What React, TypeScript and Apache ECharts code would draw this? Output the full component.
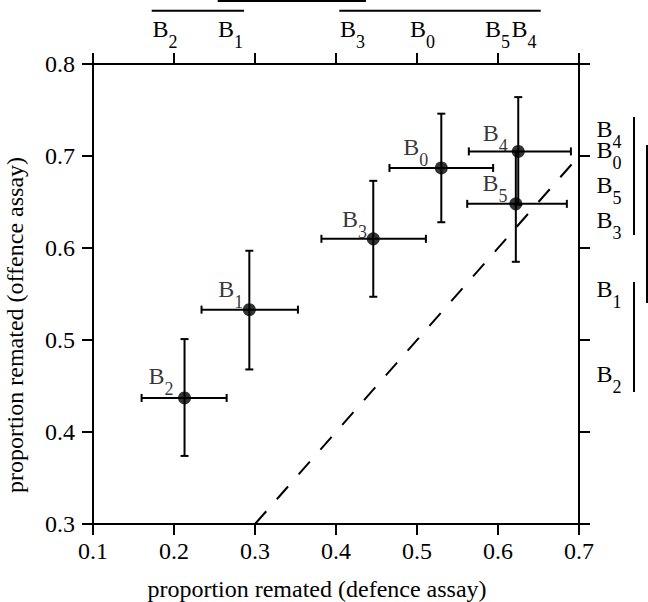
import React, { useEffect, useRef } from "react";
import * as echarts from "echarts";

// ---- data ----
const groups = ["0", "1", "2", "3", "4", "5"]; // B subscripts
const defenceMean = [0.530, 0.293, 0.213, 0.446, 0.625, 0.622];
const offenceMean = [0.687, 0.533, 0.437, 0.610, 0.705, 0.648];
const defenceLow = [0.466, 0.234, 0.160, 0.382, 0.564, 0.562];
const defenceHigh = [0.594, 0.353, 0.265, 0.511, 0.690, 0.685];
const offenceLow = [0.628, 0.468, 0.374, 0.547, 0.647, 0.585];
const offenceHigh = [0.746, 0.597, 0.501, 0.673, 0.764, 0.705];
const xTicks = [0.1, 0.2, 0.3, 0.4, 0.5, 0.6, 0.7];
const yTicks = [0.3, 0.4, 0.5, 0.6, 0.7, 0.8];
const diagonal = [0.3, 0.7];

// ordering of the labels drawn above (defence) and to the right (offence)
const topOrder = ["2", "1", "3", "0", "5", "4"];
const rightOrder = ["4", "0", "5", "3", "1", "2"];

// ---- layout (pixels) ----
const topLabelX = [152.5, 218, 340, 410, 485, 511.5];
const topLabelY = 17;
const rightLabelX = 596.5;
const rightLabelY = [116.6, 138.2, 173.2, 208.2, 276.6, 361.6];
const topBars = [
  [151.7, 244, 10.7],
  [217.7, 366, 1],
  [339.3, 540.7, 10.7],
];
const rightBars = [
  [634, 117, 235],
  [647, 145, 303],
  [634, 282, 392],
];
const pointLabelOffset = [
  [-1.5, -21.3],
  [5.5, -21.1],
  [0.5, -22.1],
  [5.2, -20.1],
  [1.1, -18.5],
  [3.1, -20.4],
];

const FONT = "Liberation Serif";
const rich = {
  b: { fontSize: 24, fontFamily: FONT, color: "#000", lineHeight: 24 },
  s: { fontSize: 18, fontFamily: FONT, color: "#000", lineHeight: 18, padding: [26, 0, 0, 0] },
};
const bLabel = (k: string) => `{b|B}{s|${k}}`;

export default function App() {
  const ref = useRef<HTMLDivElement>(null);
  useEffect(() => {
    document.body.style.margin = "0";
    const chart = echarts.init(ref.current!, null, { renderer: "svg" });

    const errData = groups.map((_, i) => [
      defenceMean[i],
      offenceMean[i],
      defenceLow[i],
      defenceHigh[i],
      offenceLow[i],
      offenceHigh[i],
    ]);

    const pointData = groups.map((g, i) => ({
      value: [defenceMean[i], offenceMean[i]],
      label: {
        show: true,
        position: "left",
        offset: pointLabelOffset[i],
        formatter: bLabel(g),
        fontFamily: FONT,
        color: "#000",
        textBorderWidth: 0,
        rich,
      },
    }));

    const axisLine = { show: true, lineStyle: { color: "#000", width: 2 } };
    const axisTick = { show: true, inside: false, length: 11, lineStyle: { color: "#000", width: 2 } };
    const labelStyle = { color: "#000", fontSize: 24, fontFamily: FONT };

    const graphic: any[] = [];
    topOrder.forEach((g, i) => {
      graphic.push({
        type: "text",
        x: topLabelX[i],
        y: topLabelY,
        style: { text: bLabel(g), rich, fontFamily: FONT, fill: "#000", align: "left", verticalAlign: "top" },
      });
    });
    rightOrder.forEach((g, i) => {
      graphic.push({
        type: "text",
        x: rightLabelX,
        y: rightLabelY[i],
        style: { text: bLabel(g), rich, fontFamily: FONT, fill: "#000", align: "left", verticalAlign: "top" },
      });
    });
    topBars.forEach((b) => {
      graphic.push({
        type: "line",
        shape: { x1: b[0], y1: b[2], x2: b[1], y2: b[2] },
        style: { stroke: "#000", lineWidth: 2 },
      });
    });
    rightBars.forEach((b) => {
      graphic.push({
        type: "line",
        shape: { x1: b[0], y1: b[1], x2: b[0], y2: b[2] },
        style: { stroke: "#000", lineWidth: 2 },
      });
    });
    graphic.push({
      type: "text",
      x: 317,
      y: 589,
      style: {
        text: "proportion remated (defence assay)",
        fontSize: 24,
        fontFamily: FONT,
        fill: "#000",
        align: "center",
        verticalAlign: "middle",
      },
    });
    graphic.push({
      type: "text",
      x: 15,
      y: 325,
      rotation: Math.PI / 2,
      style: {
        text: "proportion remated (offence assay)",
        fontSize: 24,
        fontFamily: FONT,
        fill: "#000",
        align: "center",
        verticalAlign: "middle",
      },
    });

    chart.setOption({
      animation: false,
      backgroundColor: "#fff",
      grid: { left: 93, right: 69, top: 64, bottom: 78, containLabel: false },
      xAxis: [
        {
          type: "value",
          position: "bottom",
          min: xTicks[0],
          max: xTicks[xTicks.length - 1],
          interval: 0.1,
          axisLine,
          axisTick,
          splitLine: { show: false },
          axisLabel: { ...labelStyle, margin: 15, formatter: (v: number) => v.toFixed(1) },
        },
        {
          type: "value",
          position: "top",
          min: xTicks[0],
          max: xTicks[xTicks.length - 1],
          interval: 0.1,
          axisLine,
          axisTick,
          splitLine: { show: false },
          axisLabel: { show: false },
        },
      ],
      yAxis: [
        {
          type: "value",
          position: "left",
          min: yTicks[0],
          max: yTicks[yTicks.length - 1],
          interval: 0.1,
          axisLine,
          axisTick,
          splitLine: { show: false },
          axisLabel: { ...labelStyle, margin: 18, formatter: (v: number) => v.toFixed(1) },
        },
        {
          type: "value",
          position: "right",
          min: yTicks[0],
          max: yTicks[yTicks.length - 1],
          interval: 0.1,
          axisLine,
          axisTick,
          splitLine: { show: false },
          axisLabel: { show: false },
        },
      ],
      graphic,
      series: [
        {
          type: "line",
          data: [
            [diagonal[0], diagonal[0]],
            [diagonal[1], diagonal[1]],
          ],
          symbol: "none",
          silent: true,
          lineStyle: { color: "#000", width: 2, type: [17, 16] },
          z: 1,
        },
        {
          type: "custom",
          data: errData,
          encode: { x: 0, y: 1 },
          z: 2,
          renderItem: (params: any, api: any) => {
            const x = api.value(0);
            const y = api.value(1);
            const pl = api.coord([api.value(2), y]);
            const ph = api.coord([api.value(3), y]);
            const pb = api.coord([x, api.value(4)]);
            const pt = api.coord([x, api.value(5)]);
            const cap = 4;
            const st = { stroke: "#000", lineWidth: 2 };
            const ln = (x1: number, y1: number, x2: number, y2: number) => ({
              type: "line",
              shape: { x1, y1, x2, y2 },
              style: st,
            });
            return {
              type: "group",
              children: [
                ln(pl[0], pl[1], ph[0], ph[1]),
                ln(pl[0], pl[1] - cap, pl[0], pl[1] + cap),
                ln(ph[0], ph[1] - cap, ph[0], ph[1] + cap),
                ln(pb[0], pb[1], pt[0], pt[1]),
                ln(pb[0] - cap, pb[1], pb[0] + cap, pb[1]),
                ln(pt[0] - cap, pt[1], pt[0] + cap, pt[1]),
              ],
            };
          },
        },
        {
          type: "scatter",
          data: pointData,
          symbol: "circle",
          symbolSize: 13,
          itemStyle: { color: "#000" },
          z: 3,
        },
      ],
    });
    return () => chart.dispose();
  }, []);
  return (
    <div
      ref={ref}
      style={{ position: "absolute", left: 0, top: 0, width: 648, height: 602 }}
    />
  );
}
